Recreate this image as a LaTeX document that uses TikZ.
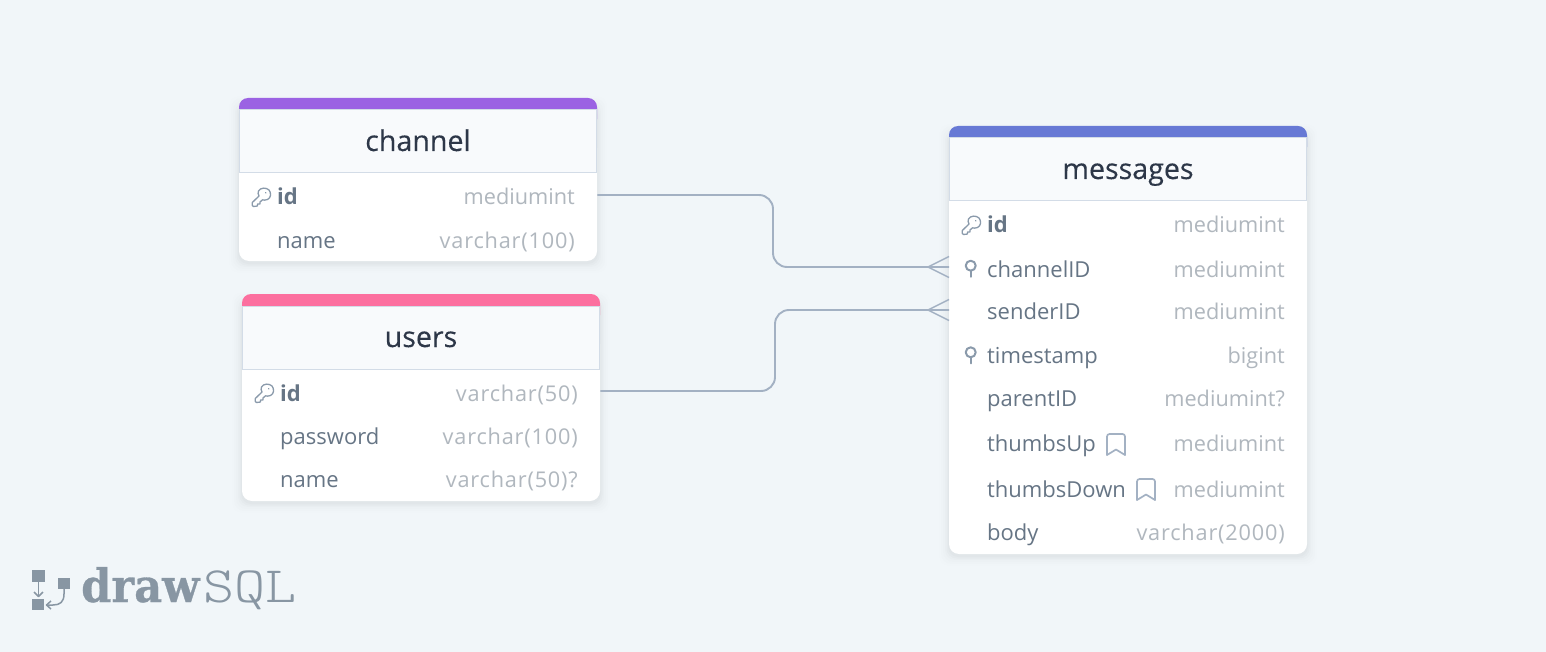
\documentclass[tikz,border=0pt]{standalone}
\usepackage{fontspec}
\setmainfont{Open Sans}
\newfontfamily\slabbold{DejaVu Serif}
\newfontfamily\slabthin{Latin Modern Mono Light}
\usetikzlibrary{calc}
\definecolor{bgc}{HTML}{F1F6F9}
\definecolor{purplec}{HTML}{9B62E3}
\definecolor{pinkc}{HTML}{FC6F9F}
\definecolor{bluec}{HTML}{6779D5}
\definecolor{headc}{HTML}{F8FAFC}
\definecolor{edgec}{HTML}{D3DCE7}
\definecolor{titlec}{HTML}{2D3748}
\definecolor{rowc}{HTML}{667585}
\definecolor{typec}{HTML}{B0B7BE}
\definecolor{linec}{HTML}{A3B1C3}
\definecolor{iconc}{HTML}{8A9AAB}
\definecolor{logoc}{HTML}{8896A3}
\tikzset{
  x=1pt,y=-1pt,
  titletext/.style={font=\fontsize{28.6}{32}\selectfont\addfontfeatures{FakeBold=0.25},text=titlec,anchor=base,inner sep=0pt},
  rowname/.style={font=\fontsize{22}{26}\selectfont,text=rowc,anchor=base west,inner sep=0pt},
  rowbold/.style={rowname,font=\fontsize{22}{26}\selectfont\bfseries},
  rowtype/.style={font=\fontsize{21.7}{26}\selectfont,text=typec,anchor=base east,inner sep=0pt},
  rowtypewide/.style={rowtype,font=\fontsize{21.7}{26}\selectfont\addfontfeatures{LetterSpace=3.8}},
  rel/.style={draw=linec,line width=1.9pt,rounded corners=14pt},
  crow/.style={draw=linec,line width=1.4pt},
  icon/.style={draw=iconc,line width=1.6pt,line join=round,line cap=round},
  markline/.style={draw=linec,line width=1.7pt,line join=round,line cap=round},
}
\newcommand{\tablebox}[6]{% name, left, top, bottom, colour, title
  \begin{scope}
    \foreach \s/\o in {10/0.005,8/0.007,6/0.009,4/0.011,2.5/0.014,1/0.016}
      \fill[black,opacity=\o,rounded corners=10pt] (#2-\s,#3+8-\s) rectangle (#2+358+\s,#4+2+\s);
    \fill[#5,rounded corners=9pt] (#2,#3) rectangle (#2+358,#3+30);
    \fill[white,rounded corners=10pt] (#2,#3+40) rectangle (#2+358,#4);
    \draw[edgec,fill=headc,line width=1pt] (#2+.5,#3+12) rectangle (#2+357.5,#3+75);
    \node[inner sep=0pt,minimum width=358pt,minimum height=#4-#3 pt,anchor=north west] (#1) at (#2,#3) {};
    \node[titletext] (#1title) at (#2+179,#3+53) {#6};
  \end{scope}
}
\newcommand{\keyicon}[2]{% x y of the top-left corner
  \begin{scope}[shift={(#1,#2)}]
    \draw[icon,line width=1.3pt] (6.5,3) .. controls (8.5,-.5) and (14,-.8) .. (17,2)
      .. controls (19.5,5) and (19,10) .. (15.5,11.5)
      .. controls (13.5,12.4) and (11.5,12.2) .. (10.5,11.8)
      -- (8,14) -- (8,16) -- (5.5,16) -- (5.5,18) -- (1.5,18.5) -- (.3,17.5) -- (.3,14.5) -- (7,8)
      .. controls (6,6.5) and (5.8,4.5) .. (6.5,3) -- cycle;
    \draw[icon,line width=1.1pt] (13.5,4.6) -- (14,5);
  \end{scope}
}
\newcommand{\indexicon}[2]{%
  \draw[icon,line width=2pt] (#1,#2) circle (5pt);
  \draw[icon,line width=2.2pt] (#1,#2+5) -- (#1,#2+11);
}
\newcommand{\markicon}[2]{%
  \draw[markline,rounded corners=2.5pt] (#1,#2+21) -- (#1,#2) -- (#1+18,#2) -- (#1+18,#2+21);
  \draw[markline] (#1,#2+21) -- (#1+9,#2+15.5) -- (#1+18,#2+21);
}
\begin{document}
\begin{tikzpicture}
\useasboundingbox (0,0) rectangle (1546,652);
\fill[bgc] (0,0) rectangle (1546,652);

% tables
\tablebox{channel}{239}{98}{261}{purplec}{channel}
\tablebox{users}{242}{294}{501}{pinkc}{users}
\tablebox{messages}{949}{126}{554}{bluec}{messages}

% channel rows
\node[rowbold] (c1) at (277,205) {id};
\node[rowtype] (c1t) at (575,205) {mediumint};
\node[rowname] (c2) at (277,248) {name};
\node[rowtypewide] (c2t) at (575,248) {varchar(100)};
\keyicon{252}{188}

% users rows
\node[rowbold] (u1) at (280,401) {id};
\node[rowtypewide] (u1t) at (578,401) {varchar(50)};
\node[rowname] (u2) at (280,444) {password};
\node[rowtypewide] (u2t) at (578,444) {varchar(100)};
\node[rowname] (u3) at (280,487) {name};
\node[rowtypewide] (u3t) at (578,487) {varchar(50)?};
\keyicon{255}{384}

% messages rows
\node[rowbold] (m1) at (987,233) {id};
\node[rowtype] (m1t) at (1285,233) {mediumint};
\node[rowname] (m2) at (987,277) {channelID};
\node[rowtype] (m2t) at (1285,277) {mediumint};
\node[rowname] (m3) at (987,319) {senderID};
\node[rowtype] (m3t) at (1285,319) {mediumint};
\node[rowname] (m4) at (987,363) {timestamp};
\node[rowtype] (m4t) at (1285,363) {bigint};
\node[rowname] (m5) at (987,406) {parentID};
\node[rowtype] (m5t) at (1285,406) {mediumint?};
\node[rowname] (m6) at (987,451) {thumbsUp};
\node[rowtype] (m6t) at (1285,451) {mediumint};
\node[rowname] (m7) at (987,497) {thumbsDown};
\node[rowtype] (m7t) at (1285,497) {mediumint};
\node[rowname] (m8) at (987,540) {body};
\node[rowtypewide] (m8t) at (1285,540) {varchar(2000)};
\keyicon{962}{216}
\indexicon{970.7}{265.7}
\indexicon{970.7}{352.3}
\markicon{1107}{434}
\markicon{1137}{479}

% connectors
\coordinate (p1) at (597,195);
\coordinate (p2) at (600,391);
\coordinate (q1) at (949,267);
\coordinate (q2) at (949,310);
\draw[rel] (channel.east |- p1) -- (773,195) -- (773,267) -- (messages.west |- q1);
\draw[rel] (users.east |- p2) -- (775,391) -- (775,310) -- (messages.west |- q2);
\draw[crow] ($(q1)+(0,-10.5)$) -- ($(q1)+(-21,0)$) -- ($(q1)+(0,10.5)$);
\draw[crow] ($(q2)+(0,-10.5)$) -- ($(q2)+(-21,0)$) -- ($(q2)+(0,10.5)$);

% logo
\fill[logoc] (32,570) rectangle (45,582);
\fill[logoc] (32,599) rectangle (44,610);
\fill[logoc] (58,578) rectangle (70,589);
\draw[logoc,line width=1.5pt] (38.5,582) -- (38.5,596);
\draw[logoc,line width=1.5pt,line join=round] (34,592) -- (38.5,596.5) -- (43,592);
\draw[logoc,line width=1.5pt] (64,589) -- (64,594) .. controls (64,602) and (60,605) .. (53,605) -- (47,605);
\draw[logoc,line width=1.5pt,line join=round] (51,601) -- (46.5,605) -- (51,609);
\node[inner sep=0pt,anchor=base west,text=logoc,xscale=.94,font=\slabbold\bfseries\fontsize{46}{46}\selectfont\addfontfeatures{FakeBold=0.6}] (logodraw) at (81,602) {draw};
\node[inner sep=0pt,anchor=base west,text=logoc,xscale=1.16,font=\slabthin\fontsize{51}{51}\selectfont] (logosql) at (203,602) {SQL};
\end{tikzpicture}
\end{document}
